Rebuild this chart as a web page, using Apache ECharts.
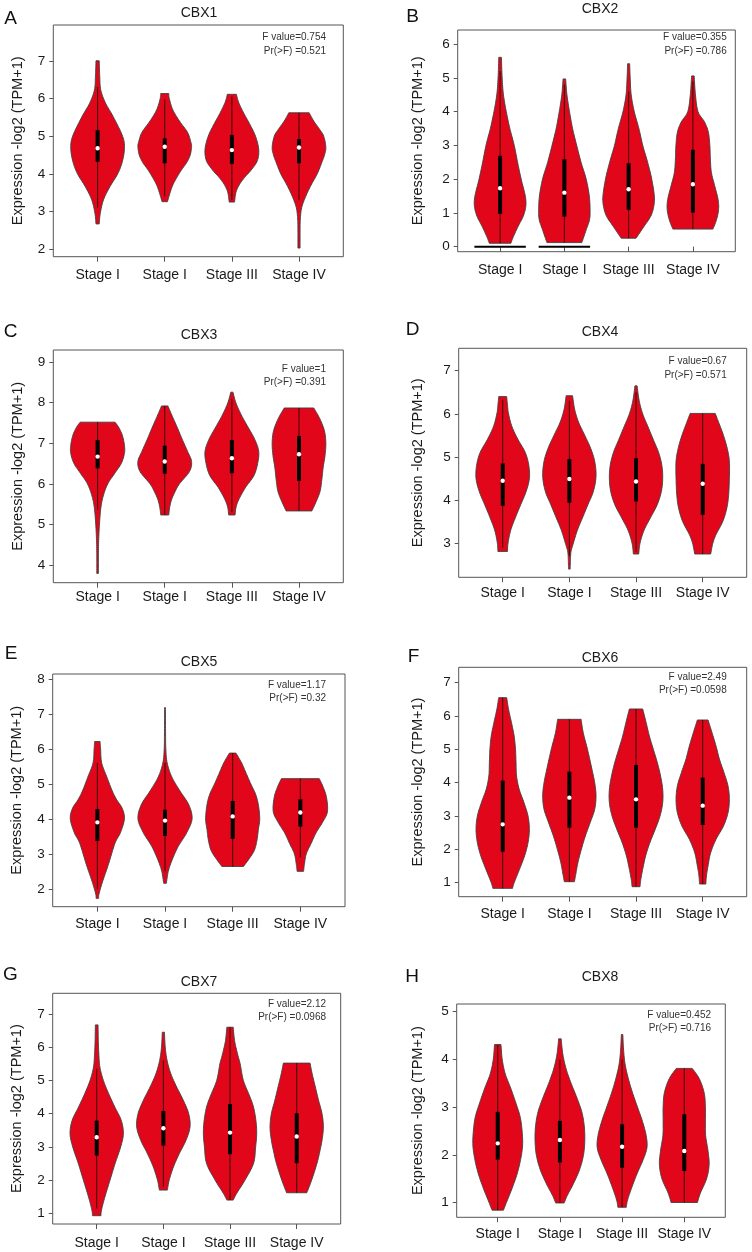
<!DOCTYPE html>
<html><head><meta charset="utf-8">
<script src="https://cdn.jsdelivr.net/npm/echarts@6/dist/echarts.min.js"></script>
<style>html,body{margin:0;padding:0;background:#fff}#chart{width:752px;height:1252px}</style>
</head><body><div id="chart"></div>
<script>
// ---------------- data ----------------
const categories = ['Stage I', 'Stage I', 'Stage III', 'Stage IV'];
const genes = ['CBX1', 'CBX2', 'CBX3', 'CBX4', 'CBX5', 'CBX6', 'CBX7', 'CBX8'];
const panelLetters = ['A', 'B', 'C', 'D', 'E', 'F', 'G', 'H'];
const fValues = ['0.754', '0.355', '1', '0.67', '1.17', '2.49', '2.12', '0.452'];
const pValues = ['0.521', '0.786', '0.391', '0.571', '0.32', '0.0598', '0.0968', '0.716'];
const yTickValues = [
  [2, 3, 4, 5, 6, 7], [0, 1, 2, 3, 4, 5, 6], [4, 5, 6, 7, 8, 9], [3, 4, 5, 6, 7],
  [2, 3, 4, 5, 6, 7, 8], [1, 2, 3, 4, 5, 6, 7], [1, 2, 3, 4, 5, 6, 7], [1, 2, 3, 4, 5]
];
// box statistics per group: [lower whisker, Q1, median, Q3, upper whisker]
const cbx1Box = [[3.1, 4.32, 4.68, 5.16, 6.3], [3.4, 4.28, 4.72, 4.94, 5.97], [3.3, 4.26, 4.63, 5.03, 6.05], [3.3, 4.28, 4.70, 4.92, 5.62]];
const cbx2Box = [[0.1, 0.97, 1.73, 2.69, 5.2], [0.12, 0.89, 1.60, 2.59, 4.8], [0.25, 1.09, 1.70, 2.47, 4.6], [0.52, 1.01, 1.85, 2.87, 4.9]];
const cbx3Box = [[5.36, 6.38, 6.67, 7.08, 7.52], [5.23, 6.25, 6.55, 6.94, 7.92], [5.3, 6.26, 6.63, 7.08, 8.1], [5.33, 6.07, 6.73, 7.18, 7.87]];
const cbx4Box = [[2.9, 3.87, 4.45, 4.85, 6.33], [2.7, 3.94, 4.49, 4.95, 6.3], [2.8, 3.97, 4.43, 4.97, 6.5], [2.75, 3.66, 4.38, 4.84, 6.01]];
const cbx5Box = [[2.0, 3.37, 3.90, 4.28, 5.6], [2.5, 3.51, 3.95, 4.26, 5.6], [2.64, 3.43, 4.07, 4.51, 5.88], [2.9, 3.78, 4.18, 4.56, 5.15]];
const cbx6Box = [[0.83, 1.93, 2.75, 4.06, 6.55], [1.03, 2.65, 3.55, 4.33, 5.9], [0.88, 2.65, 3.50, 4.53, 6.21], [0.96, 2.73, 3.31, 4.15, 5.88]];
const cbx7Box = [[1.15, 2.74, 3.29, 3.79, 5.35], [1.8, 3.04, 3.56, 4.08, 5.6], [1.4, 2.78, 3.43, 4.29, 6.6], [1.62, 2.51, 3.31, 4.01, 5.52]];
const cbx8Box = [[0.84, 1.90, 2.24, 2.90, 4.3], [1.0, 1.84, 2.31, 2.71, 4.0], [0.9, 1.73, 2.17, 2.64, 4.0], [1.0, 1.66, 2.08, 2.85, 3.81]];
// violin density outlines per group: [expression value, relative half-width]
const cbx1Violin = [
  [[2.67,0.06],[2.95,0.1],[3.31,0.22],[3.66,0.46],[4.0,0.75],[4.32,0.92],[4.68,1.0],[5.0,0.93],[5.52,0.58],[5.87,0.3],[6.22,0.12],[6.58,0.08],[7.0,0.06]],
  [[3.26,0.1],[3.5,0.2],[3.7,0.3],[3.9,0.45],[4.1,0.62],[4.3,0.82],[4.5,0.95],[4.72,1.0],[4.85,0.97],[5.1,0.85],[5.4,0.55],[5.7,0.3],[6.0,0.17],[6.13,0.15]],
  [[3.25,0.1],[3.5,0.15],[3.7,0.27],[3.9,0.47],[4.1,0.72],[4.35,0.95],[4.65,1.0],[5.0,0.88],[5.3,0.68],[5.6,0.45],[5.9,0.25],[6.11,0.17]],
  [[2.03,0.04],[2.5,0.04],[2.8,0.05],[3.1,0.1],[3.4,0.25],[3.7,0.45],[4.0,0.68],[4.3,0.85],[4.5,0.95],[4.7,1.0],[5.0,0.92],[5.2,0.75],[5.4,0.55],[5.62,0.38]]
];
const cbx2Violin = [
  [[0.1,0.42],[0.3,0.52],[0.6,0.7],[0.9,0.9],[1.2,1.0],[1.5,0.98],[2.0,0.82],[2.5,0.68],[3.0,0.55],[3.5,0.38],[4.0,0.24],[4.5,0.13],[5.0,0.08],[5.61,0.05]],
  [[0.12,0.68],[0.5,0.85],[0.8,0.98],[1.1,1.0],[1.5,0.97],[2.0,0.85],[2.5,0.65],[3.0,0.48],[3.5,0.32],[4.0,0.2],[4.5,0.1],[4.97,0.05]],
  [[0.25,0.29],[0.6,0.6],[0.9,0.86],[1.2,0.98],[1.5,1.0],[2.0,0.9],[2.5,0.74],[3.0,0.55],[3.5,0.4],[4.0,0.22],[4.5,0.1],[5.0,0.06],[5.42,0.04]],
  [[0.52,0.78],[0.8,0.92],[1.1,1.0],[1.4,0.98],[1.8,0.85],[2.2,0.72],[2.6,0.68],[3.0,0.66],[3.4,0.6],[3.7,0.45],[4.0,0.2],[4.5,0.1],[5.06,0.05]]
];
const cbx2ZeroLineGroups = [0, 1];
const cbx3Violin = [
  [[3.79,0.03],[4.2,0.03],[4.6,0.04],[5.0,0.07],[5.4,0.12],[5.7,0.21],[6.0,0.38],[6.25,0.63],[6.5,0.88],[6.75,1.0],[6.95,1.0],[7.2,0.92],[7.4,0.78],[7.52,0.65]],
  [[5.23,0.15],[5.4,0.18],[5.6,0.25],[5.8,0.38],[6.0,0.55],[6.3,0.92],[6.55,1.0],[6.8,0.85],[7.1,0.65],[7.4,0.46],[7.7,0.26],[7.92,0.12]],
  [[5.23,0.12],[5.4,0.15],[5.6,0.25],[5.9,0.5],[6.2,0.82],[6.5,0.96],[6.8,1.0],[7.1,0.85],[7.4,0.6],[7.7,0.35],[8.0,0.15],[8.26,0.04]],
  [[5.33,0.48],[5.5,0.6],[5.8,0.78],[6.1,0.85],[6.4,0.9],[6.7,0.97],[7.0,1.0],[7.3,0.95],[7.6,0.78],[7.87,0.55]]
];
const cbx4Violin = [
  [[2.81,0.18],[3.0,0.2],[3.3,0.3],[3.6,0.48],[3.9,0.68],[4.2,0.88],[4.5,1.0],[4.8,0.98],[5.1,0.85],[5.4,0.58],[5.7,0.35],[6.0,0.22],[6.2,0.18],[6.4,0.15]],
  [[2.4,0.03],[2.6,0.04],[2.8,0.06],[3.0,0.15],[3.3,0.3],[3.6,0.5],[3.9,0.7],[4.2,0.9],[4.55,1.0],[4.9,0.95],[5.2,0.8],[5.5,0.58],[5.8,0.35],[6.1,0.2],[6.42,0.12]],
  [[2.75,0.1],[3.0,0.15],[3.3,0.3],[3.6,0.55],[3.9,0.8],[4.2,0.95],[4.5,1.0],[4.8,0.97],[5.1,0.85],[5.4,0.65],[5.7,0.45],[6.0,0.25],[6.3,0.12],[6.65,0.04]],
  [[2.75,0.3],[3.0,0.38],[3.2,0.5],[3.5,0.75],[3.8,0.9],[4.1,0.97],[4.5,1.0],[4.9,1.0],[5.2,0.92],[5.5,0.78],[5.8,0.6],[6.01,0.47]]
];
const cbx5Violin = [
  [[1.73,0.05],[1.85,0.06],[2.2,0.19],[2.7,0.41],[3.3,0.65],[3.6,0.85],[4.0,1.0],[4.3,0.92],[4.54,0.72],[4.8,0.55],[5.2,0.35],[5.6,0.16],[6.0,0.12],[6.21,0.1]],
  [[2.16,0.05],[2.5,0.12],[2.8,0.25],[3.2,0.48],[3.6,0.8],[4.0,1.0],[4.4,0.88],[4.8,0.55],[5.2,0.25],[5.6,0.08],[6.0,0.03],[6.5,0.02],[7.18,0.015]],
  [[2.64,0.4],[2.85,0.6],[3.1,0.8],[3.4,0.9],[3.7,0.95],[4.0,1.0],[4.4,0.95],[4.7,0.85],[5.0,0.67],[5.3,0.5],[5.6,0.33],[5.88,0.12]],
  [[2.5,0.12],[2.7,0.15],[3.0,0.22],[3.3,0.4],[3.6,0.58],[3.9,0.82],[4.2,1.0],[4.6,0.97],[4.9,0.85],[5.15,0.7]]
];
const cbx6Violin = [
  [[0.83,0.37],[1.0,0.43],[1.4,0.63],[1.8,0.82],[2.2,0.95],[2.6,1.0],[3.0,0.95],[3.4,0.8],[3.8,0.62],[4.2,0.52],[4.6,0.5],[5.0,0.48],[5.4,0.43],[5.8,0.33],[6.2,0.22],[6.55,0.15]],
  [[1.03,0.19],[1.25,0.24],[1.6,0.32],[2.0,0.45],[2.4,0.6],[2.8,0.78],[3.2,0.95],[3.6,1.0],[4.0,0.95],[4.5,0.82],[5.0,0.68],[5.5,0.52],[5.9,0.44]],
  [[0.88,0.15],[1.1,0.18],[1.4,0.25],[1.8,0.36],[2.2,0.52],[2.6,0.72],[3.0,0.9],[3.4,1.0],[3.8,1.0],[4.2,0.92],[4.6,0.8],[5.0,0.65],[5.4,0.5],[5.8,0.38],[6.21,0.25]],
  [[0.96,0.12],[1.2,0.14],[1.5,0.2],[1.9,0.3],[2.3,0.5],[2.7,0.78],[3.1,0.95],[3.5,1.0],[3.9,0.95],[4.3,0.8],[4.7,0.63],[5.1,0.5],[5.5,0.35],[5.88,0.2]]
];
const cbx7Violin = [
  [[0.93,0.16],[1.1,0.18],[1.5,0.31],[2.0,0.5],[2.5,0.69],[3.0,0.9],[3.4,1.0],[3.8,0.92],[4.2,0.68],[4.6,0.45],[5.0,0.25],[5.4,0.12],[5.8,0.08],[6.2,0.06],[6.67,0.05]],
  [[1.7,0.15],[2.0,0.22],[2.4,0.38],[2.8,0.6],[3.2,0.85],[3.6,1.0],[4.0,0.95],[4.4,0.75],[4.8,0.5],[5.2,0.28],[5.6,0.14],[6.0,0.07],[6.45,0.04]],
  [[1.4,0.12],[1.6,0.25],[2.0,0.56],[2.5,0.88],[3.0,0.96],[3.4,1.0],[3.8,0.97],[4.2,0.88],[4.5,0.75],[5.0,0.5],[5.5,0.38],[5.8,0.28],[6.2,0.17],[6.6,0.12]],
  [[1.62,0.38],[2.0,0.56],[2.5,0.76],[2.8,0.85],[3.2,0.95],[3.6,1.0],[4.0,0.95],[4.4,0.82],[4.8,0.7],[5.2,0.58],[5.52,0.5]]
];
const cbx8Violin = [
  [[0.84,0.23],[1.0,0.35],[1.3,0.58],[1.6,0.78],[1.9,0.92],[2.2,1.0],[2.5,0.98],[2.8,0.9],[3.1,0.72],[3.4,0.52],[3.7,0.3],[4.0,0.18],[4.31,0.13]],
  [[0.99,0.17],[1.15,0.3],[1.4,0.55],[1.7,0.8],[2.0,0.95],[2.3,1.0],[2.6,0.98],[2.9,0.88],[3.2,0.68],[3.5,0.45],[3.8,0.25],[4.1,0.12],[4.43,0.05]],
  [[0.9,0.17],[1.05,0.22],[1.3,0.38],[1.6,0.6],[1.9,0.85],[2.15,1.0],[2.4,0.97],[2.7,0.82],[3.0,0.62],[3.3,0.42],[3.6,0.25],[3.9,0.12],[4.2,0.06],[4.52,0.03]],
  [[1.0,0.53],[1.2,0.65],[1.5,0.9],[1.8,1.0],[2.1,0.95],[2.4,0.86],[2.7,0.85],[3.0,0.85],[3.3,0.8],[3.6,0.6],[3.81,0.32]]
];

const allBoxes = [cbx1Box, cbx2Box, cbx3Box, cbx4Box, cbx5Box, cbx6Box, cbx7Box, cbx8Box];
const allViolins = [cbx1Violin, cbx2Violin, cbx3Violin, cbx4Violin, cbx5Violin, cbx6Violin, cbx7Violin, cbx8Violin];
const zeroLines = [[], cbx2ZeroLineGroups, [], [], [], [], [], []];

// ---------------- layout (pixels) ----------------
const FONT = '"Liberation Sans", Arial, Helvetica, sans-serif';
const layout = [
  { box: [53.3, 25, 290, 231.7], y: [1.8, 7.95], letter: [10.5, 18.5], title: [199, 13.5], stat: [326, 37.7], nameGap: 28, xMargin: 11 },
  { box: [457.7, 30, 277.6, 221.7], y: [-0.15, 6.42], letter: [412.5, 16.5], title: [600, 9.5], stat: [726.7, 37.7], nameGap: 32, xMargin: 11 },
  { box: [53.3, 350, 290, 232.7], y: [3.56, 9.30], letter: [10.5, 331.5], title: [199, 335], stat: [326, 369], nameGap: 28, xMargin: 7 },
  { box: [458.7, 348.3, 288, 229], y: [2.21, 7.52], letter: [412.5, 330], title: [600, 331.7], stat: [726.7, 361.7], nameGap: 33, xMargin: 9 },
  { box: [52.7, 674, 292.3, 232.7], y: [1.49, 8.14], letter: [11, 653.5], title: [199, 661.7], stat: [326, 685], nameGap: 28, xMargin: 10 },
  { box: [458.7, 667.3, 288, 229.4], y: [0.58, 7.46], letter: [413.5, 656.5], title: [600, 658.3], stat: [726.7, 677.3], nameGap: 33, xMargin: 10 },
  { box: [52.7, 993.3, 288, 230.7], y: [0.68, 7.62], letter: [10.5, 975], title: [199, 981.7], stat: [326, 1004], nameGap: 28, xMargin: 12 },
  { box: [456.7, 1004, 268.6, 213.3], y: [0.69, 5.16], letter: [412, 976.5], title: [600, 976.7], stat: [711, 1015], nameGap: 31, xMargin: 10 }
];

// ---------------- drawing helpers ----------------
function smoothSide(pts) {
  const out = [];
  const n = pts.length;
  for (let k = 0; k < n - 1; k++) {
    const p0 = pts[Math.max(k - 1, 0)], p1 = pts[k], p2 = pts[k + 1], p3 = pts[Math.min(k + 2, n - 1)];
    for (let s = 0; s < 8; s++) {
      const t = s / 8, t2 = t * t, t3 = t2 * t;
      const f = (a, b, c, d) => 0.5 * (2 * b + (-a + c) * t + (2 * a - 5 * b + 4 * c - d) * t2 + (-a + 3 * b - 3 * c + d) * t3);
      out.push([f(p0[0], p1[0], p2[0], p3[0]), f(p0[1], p1[1], p2[1], p3[1])]);
    }
  }
  out.push(pts[n - 1]);
  return out;
}

function makeRender(g) {
  return function (params, api) {
    const i = params.dataIndex;
    const prof = allViolins[g][i];
    const st = allBoxes[g][i];
    const cx = api.coord([i + 1, st[2]])[0];
    const maxHalf = 0.4 * api.size([1, 0])[0];
    const right = smoothSide(prof.map(p => [cx + p[1] * maxHalf, api.coord([i + 1, p[0]])[1]]))
      .map(p => [Math.max(p[0], cx + 0.3), p[1]]);
    const left = right.slice().reverse().map(p => [2 * cx - p[0], p[1]]);
    const poly = right.concat(left);
    const yLo = api.coord([i + 1, st[0]])[1];
    const yQ1 = api.coord([i + 1, st[1]])[1];
    const yMed = api.coord([i + 1, st[2]])[1];
    const yQ3 = api.coord([i + 1, st[3]])[1];
    const yHi = api.coord([i + 1, st[4]])[1];
    const children = [
      { type: 'polygon', shape: { points: poly }, style: { fill: '#E2061B', stroke: '#3f3f3f', lineWidth: 0.9 } },
      { type: 'line', shape: { x1: cx, y1: yLo, x2: cx, y2: yHi }, style: { stroke: '#3a0808', lineWidth: 1 } },
      { type: 'rect', shape: { x: cx - 2, y: yQ3, width: 4, height: yQ1 - yQ3 }, style: { fill: '#000' } },
      { type: 'circle', shape: { cx: cx, cy: yMed, r: 2.2 }, style: { fill: '#fff' } }
    ];
    if (zeroLines[g].indexOf(i) >= 0) {
      const y0 = api.coord([i + 1, 0])[1];
      children.push({ type: 'line', shape: { x1: cx - maxHalf, y1: y0, x2: cx + maxHalf, y2: y0 }, style: { stroke: '#000', lineWidth: 2 } });
    }
    return { type: 'group', children: children };
  };
}

// ---------------- option ----------------
const grids = [], xAxes = [], yAxes = [], series = [], graphics = [];
genes.forEach((gene, g) => {
  const L = layout[g];
  grids.push({ left: L.box[0], top: L.box[1], width: L.box[2], height: L.box[3], show: true,
    borderColor: '#555', borderWidth: 1, containLabel: false, outerBoundsMode: 'none' });
  xAxes.push({
    gridIndex: g, type: 'value', min: 0.34, max: 4.66,
    splitLine: { show: false }, axisLine: { show: false },
    axisTick: { show: true, customValues: [1, 2, 3, 4], length: 5, lineStyle: { color: '#555' } },
    axisLabel: { customValues: [1, 2, 3, 4], formatter: v => categories[Math.round(v) - 1], margin: L.xMargin,
      fontSize: 14, color: '#1a1a1a', fontFamily: FONT }
  });
  yAxes.push({
    gridIndex: g, type: 'value', min: L.y[0], max: L.y[1],
    splitLine: { show: false }, axisLine: { show: false },
    axisTick: { show: true, customValues: yTickValues[g], length: 4, lineStyle: { color: '#555' } },
    axisLabel: { customValues: yTickValues[g], margin: 8, fontSize: 13.5, color: '#1a1a1a', fontFamily: FONT },
    name: 'Expression -log2 (TPM+1)', nameLocation: 'middle', nameGap: L.nameGap,
    nameTextStyle: { fontSize: 14.5, color: '#1a1a1a', fontFamily: FONT }
  });
  series.push({
    type: 'custom', xAxisIndex: g, yAxisIndex: g, silent: true, clip: false,
    data: categories.map((c, i) => [i + 1, allBoxes[g][i][2]]),
    encode: { x: 0, y: 1 },
    renderItem: makeRender(g)
  });
  graphics.push({ type: 'text', x: L.letter[0], y: L.letter[1],
    style: { text: panelLetters[g], fontSize: 19, fontFamily: FONT, fill: '#111', align: 'center', verticalAlign: 'middle' } });
  graphics.push({ type: 'text', x: L.title[0], y: L.title[1],
    style: { text: gene, fontSize: 14, fontFamily: FONT, fill: '#1a1a1a', align: 'center', verticalAlign: 'middle' } });
  graphics.push({ type: 'text', x: L.stat[0], y: L.stat[1],
    style: { text: 'F value=' + fValues[g], fontSize: 10, fontFamily: FONT, fill: '#333', align: 'right', verticalAlign: 'middle' } });
  graphics.push({ type: 'text', x: L.stat[0], y: L.stat[1] + 13.3,
    style: { text: 'Pr(>F) =' + pValues[g], fontSize: 10, fontFamily: FONT, fill: '#333', align: 'right', verticalAlign: 'middle' } });
});

const chart = echarts.init(document.getElementById('chart'), null, { renderer: 'canvas' });
chart.setOption({
  backgroundColor: '#ffffff',
  animation: false,
  grid: grids, xAxis: xAxes, yAxis: yAxes, series: series, graphic: graphics
});
</script></body></html>
